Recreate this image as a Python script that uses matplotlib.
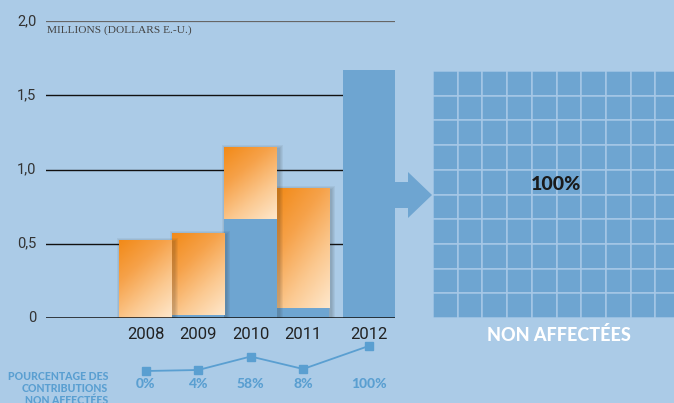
import numpy as np
import matplotlib
matplotlib.use("Agg")
import matplotlib.pyplot as plt
from matplotlib.patches import Rectangle, Polygon
from matplotlib.colors import LinearSegmentedColormap

# ---- data ----
years = ["2008", "2009", "2010", "2011", "2012"]
totals = [0.52, 0.57, 1.145, 0.875, 1.67]          # millions USD
pct_unallocated = [0, 4, 58, 8, 100]                # % non affectées
ytick_vals = [0, 0.5, 1.0, 1.5, 2.0]
ytick_labels = ["0", "0,5", "1,0", "1,5", "2,0"]

# ---- style ----
BG = "#abcbe7"
BLUE = "#6ea5d1"
LBLUE = "#5a9fd1"
GRIDW = "#a6c8e7"
COND = ["Liberation Sans Narrow", "Roboto", "DejaVu Sans"]
W, H = 674, 403

def fx(px):
    return px / W

def fy(py):
    return 1 - py / H

fig = plt.figure(figsize=(W / 100, H / 100), dpi=100, facecolor=BG)

# main bar axes
ax = fig.add_axes([fx(46), fy(318), (395 - 46) / W, (318 - 21) / H])
ax.patch.set_alpha(0)
xpos = [1.9, 2.9, 3.9, 4.9, 6.15]
bw = 1.0
XMAX, YMAX = 6.65, 2.0
ax.set_xlim(0, XMAX)
ax.set_ylim(0, YMAX)
for s in ax.spines.values():
    s.set_visible(False)
px_x = XMAX / (395 - 46)   # data units per pixel
px_y = YMAX / (318 - 21)

for v in ytick_vals[1:-1]:
    ax.axhline(v, color="#111111", lw=1.0, zorder=1)
ax.axhline(2.0, color="#666666", lw=1.6, zorder=1)
ax.axhline(0, color="#111111", lw=1.1, zorder=40)

ax.set_yticks(ytick_vals)
ax.set_yticklabels(ytick_labels, fontfamily=COND, fontsize=10.5, color="#333333")
ax.set_xticks(xpos)
ax.set_xticklabels(years, fontfamily=COND, fontsize=12, color="#222222")
ax.tick_params(length=0, axis="y", pad=7)
ax.tick_params(length=0, axis="x", pad=6.5)
for lab in ax.get_yticklabels():
    lab.set_verticalalignment("center")

cmap = LinearSegmentedColormap.from_list("og", ["#f28a18", "#f6a24a", "#fbc88f", "#fee7cb"])
n = 64
rows = np.linspace(0, 1, n)[:, None]
cols = np.linspace(0, 1, n)[None, :]
g = 0.62 * rows + 0.38 * cols

for i, (x, tot, p) in enumerate(zip(xpos, totals, pct_unallocated)):
    left = x - bw / 2
    blue_h = tot * p / 100
    zb = 30 - 3 * i
    if p < 100:
        # soft shadow, offset to the right, drawn over the next bar
        for s in [4, 3, 2, 1]:
            ax.add_patch(Rectangle((left + (2.0 - s) * px_x, 0),
                                   bw + 2 * s * px_x, tot + (s - 1.5) * px_y,
                                   facecolor="#2a2a2a", alpha=0.06, lw=0, zorder=zb - 1))
    if blue_h > 0:
        ax.add_patch(Rectangle((left, 0), bw, blue_h, facecolor=BLUE, lw=0, zorder=zb))
    if tot - blue_h > 0:
        ax.imshow(g, cmap=cmap, extent=(left, left + bw, blue_h, tot), origin="upper",
                  aspect="auto", interpolation="bilinear", zorder=zb)

ax.set_xlim(0, XMAX)
ax.set_ylim(0, YMAX)

ax.text(0.02, 1.972, "MILLIONS (DOLLARS E.-U.)", fontfamily=["Liberation Serif", "DejaVu Serif"],
        fontsize=8.2, color="#444444", va="top", ha="left")

# arrow
arrow_px = [(395, 182), (408, 182), (408, 172), (432, 195), (408, 218), (408, 208), (395, 208)]
fig.patches.append(Polygon([(fx(a), fy(b)) for a, b in arrow_px], closed=True,
                           transform=fig.transFigure, facecolor=BLUE, lw=0))

# percentage line
axl = fig.add_axes([fx(46), fy(371), (395 - 46) / W, 25 / H])
axl.set_xlim(0, XMAX)
axl.set_ylim(0, 100)
axl.axis("off")
axl.plot(xpos, pct_unallocated, color=LBLUE, lw=1.3, marker="s", ms=5.5, clip_on=False)
for x, p in zip(xpos, pct_unallocated):
    axl.annotate(f"{p}%", (x, 0), xytext=(0, -9.3), textcoords="offset points",
                 ha="center", va="center", fontfamily="Lato", fontweight="black",
                 fontsize=10, color=LBLUE)

fig.text(fx(108), fy(371), "POURCENTAGE DES\nCONTRIBUTIONS\nNON AFFECTÉES", ha="right", va="top",
         multialignment="right", linespacing=1.12, fontfamily="Lato", fontweight="black",
         fontsize=7.6, color=LBLUE)

# waffle
axw = fig.add_axes([fx(433), fy(318), 247 / W, 247 / H])
axw.set_xlim(0, 10)
axw.set_ylim(0, 10)
axw.axis("off")
for k in range(100):
    r, c = divmod(k, 10)
    fc = BLUE if k < pct_unallocated[-1] else BG
    axw.add_patch(Rectangle((c, 9 - r), 1, 1, facecolor=fc, edgecolor=GRIDW, lw=1.1))
axw.text(5.0, 5.4, f"{pct_unallocated[-1]}%", ha="center", va="center", fontfamily="Lato",
         fontweight="black", fontsize=14, color="#1a1a1a")

fig.text(fx(559), fy(335), "NON AFFECTÉES", ha="center", va="center", fontfamily="Lato",
         fontweight="black", fontsize=13, color="white")

fig.savefig("out.png", dpi=100, facecolor=BG)
